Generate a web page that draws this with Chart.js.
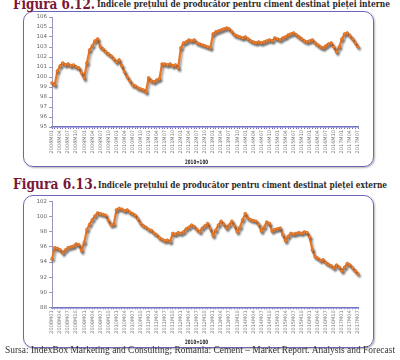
<!DOCTYPE html>
<html>
<head>
<meta charset="utf-8">
<script src="https://cdn.jsdelivr.net/npm/chart.js@4"></script>
<style>
  html, body { margin: 0; padding: 0; background: #fff; }
  #page { position: relative; width: 400px; height: 360px; overflow: hidden; }
  .txt { position: absolute; white-space: nowrap; line-height: 1; transform-origin: 0 0; }
  .fig { font: bold 15.5px "DejaVu Serif", serif; color: #7a1736; }
  .sub { font: bold 8.5px "DejaVu Serif", serif; color: #2a2a2a; }
  .src { font: 9.5px "Liberation Serif", serif; color: #333; }
  .base { font: bold 6px "DejaVu Sans", sans-serif; color: #222; }
  .box { position: absolute; border: 1.5px solid #6d66b4; border-radius: 10px;
         box-shadow: 1px 1px 2px rgba(0,0,0,.3); box-sizing: border-box; }
  .cv { position: absolute; left: 0; width: 400px; height: 180px; }
</style>
</head>
<body>
<div id="page">
  <div class="box" style="left:23px;top:11px;width:351px;height:156px"></div>
  <div class="box" style="left:23px;top:195px;width:351px;height:153px"></div>

  <div class="txt fig" style="left:13px;top:-6.5px" data-w="82">Figura 6.12.</div>
  <div class="txt sub" style="left:97px;top:-0.6px" data-w="293">Indicele prețului de producător pentru ciment destinat pieței interne</div>
  <div class="txt fig" style="left:13px;top:174px" data-w="84">Figura 6.13.</div>
  <div class="txt sub" style="left:98px;top:179.8px" data-w="289">Indicele prețului de producător pentru ciment destinat pieței externe</div>

  <div class="cv" style="top:0"><canvas id="chart-int"></canvas></div>
  <div class="cv" style="top:180px"><canvas id="chart-ext"></canvas></div>

  <div class="txt base" style="left:185px;top:158px" data-w="23">2010=100</div>
  <div class="txt base" style="left:185px;top:338px" data-w="23">2010=100</div>

  <div class="txt src" style="left:5px;top:345.3px" data-w="390">Sursa: IndexBox Marketing and Consulting; Romania: Cement – Market Report. Analysis and Forecast</div>
</div>

<script>
// ── data (monthly, 2008M01 … 2017M07) ─────────────────────────
const YEARS  = [2008, 2009, 2010, 2011, 2012, 2013, 2014, 2015, 2016, 2017];
const MONTHS = ['01', '02', '03', '04', '05', '06', '07', '08', '09', '10', '11', '12'];

// internal market, 2010=100
const IDX_INTERNAL = [
  99.4, 99.2, 100.6, 101.1, 101.4, 101.2, 101.3, 101.1, 101.2, 101.0,
  100.9, 100.4, 99.9, 101.4, 102.7, 103.1, 103.6, 103.8, 103.0, 102.8,
  102.5, 102.3, 102.1, 101.8, 101.5, 101.7, 101.1, 100.5, 100.0, 99.6,
  99.2, 99.1, 98.9, 98.8, 98.7, 98.5, 99.9, 99.6, 99.5, 99.7,
  99.8, 101.3, 101.3, 101.2, 101.3, 101.1, 101.2, 100.9, 102.9, 103.4,
  103.5, 103.7, 103.6, 103.7, 103.4, 103.3, 103.2, 103.1, 103.0, 102.9,
  104.3, 104.5, 104.6, 104.7, 104.8, 104.9, 104.8, 104.5, 104.2, 104.1,
  104.0, 103.9, 104.0, 103.8, 103.6, 103.5, 103.4, 103.5, 103.4, 103.5,
  103.6, 103.7, 103.6, 103.9, 103.8, 103.7, 103.9, 104.0, 104.2, 104.3,
  104.4, 104.2, 104.0, 103.8, 103.6, 103.5, 103.6, 103.7, 103.4, 103.2,
  103.0, 102.9, 103.1, 103.3, 103.4, 103.0, 102.5, 103.0, 103.8, 104.3,
  104.4, 104.1, 103.8, 103.4, 103.0
];

// external market, 2010=100
const IDX_EXTERNAL = [
  94.4, 95.9, 95.8, 95.6, 95.2, 95.6, 95.9, 96.0, 96.1, 96.4,
  96.3, 95.5, 96.6, 98.3, 99.0, 99.6, 100.1, 100.5, 100.4, 100.3,
  100.2, 99.5, 98.9, 99.0, 100.9, 101.1, 101.0, 100.8, 100.9, 100.6,
  100.4, 100.2, 99.7, 99.1, 98.8, 98.6, 98.3, 98.2, 97.8, 97.6,
  97.2, 97.0, 96.8, 96.9, 96.7, 97.8, 97.7, 97.9, 97.8, 98.0,
  98.4, 98.6, 98.9, 98.7, 98.3, 98.0, 98.5, 98.8, 99.1, 98.4,
  97.5, 98.2, 98.9, 99.4, 99.0, 98.5, 98.9, 99.4, 98.8, 98.0,
  98.6, 99.6, 100.4, 99.8, 99.6, 99.5, 99.4, 99.0, 98.1, 98.6,
  99.3, 99.1, 98.1, 98.3, 98.4, 98.5, 97.6, 96.8, 97.4, 97.8,
  97.7, 97.8, 97.9, 97.8, 98.0, 97.9, 97.3, 95.6, 94.7, 94.5,
  94.2, 94.3, 93.9, 93.7, 93.5, 93.2, 93.6, 93.3, 92.8, 93.3,
  93.8, 93.6, 93.2, 92.8, 92.4
];

const LABELS = [];
YEARS.forEach(y => MONTHS.forEach(m => LABELS.push(`${y}M${m}`)));
LABELS.length = IDX_INTERNAL.length;

// fit the html text lines to the widths measured on the picture
document.querySelectorAll('[data-w]').forEach(el => {
  const w = el.getBoundingClientRect().width;
  el.style.transform = `scaleX(${(+el.dataset.w / w).toFixed(4)})`;
});

const lineShadow = {
  id: 'lineShadow',
  beforeDatasetsDraw(chart) {
    const { ctx } = chart;
    ctx.save();
    ctx.shadowColor = 'rgba(60,60,60,.5)';
    ctx.shadowOffsetX = 1.5;
    ctx.shadowOffsetY = 2;
    ctx.shadowBlur = 2;
  },
  afterDatasetsDraw(chart) { chart.ctx.restore(); }
};

const AXIS = '#7171c6';
const TICK_FONT = { family: 'DejaVu Sans', size: 5.5 };

function makeChart(id, data, yMin, yMax, yStep, padTop, padBottom) {
  return new Chart(document.getElementById(id), {
    type: 'line',
    data: {
      labels: LABELS,
      datasets: [{
        data,
        borderColor: '#ec7624',
        borderWidth: 2.2,
        backgroundColor: '#f08a3a',
        pointRadius: 1.4,
        pointBorderWidth: 0.6,
        pointBorderColor: '#d2621a',
        pointBackgroundColor: '#f08a3a',
        tension: 0,
        fill: false
      }]
    },
    options: {
      responsive: true, maintainAspectRatio: false, animation: false,
      layout: { padding: { left: 0, right: 42, top: padTop, bottom: padBottom } },
      plugins: { legend: { display: false }, tooltip: { enabled: false } },
      scales: {
        x: {
          offset: false,
          afterFit: s => { s.height = 40; },
          border: { color: AXIS, width: 1.5 },
          grid: { drawOnChartArea: false, tickLength: 2, color: AXIS },
          ticks: {
            autoSkip: false, minRotation: 90, maxRotation: 90, padding: 1,
            color: '#777', font: { family: 'DejaVu Sans', size: 5 },
            callback: (v, i) => i % 3 === 0 ? LABELS[i] : ''
          }
        },
        y: {
          min: yMin, max: yMax,
          afterFit: s => { s.width = 52; },
          border: { color: '#9a98b8', width: 1 },
          grid: { drawOnChartArea: false, tickLength: 3, color: '#9a98b8' },
          ticks: { stepSize: yStep, autoSkip: false, padding: 2, color: '#666', font: TICK_FONT }
        }
      }
    },
    plugins: [lineShadow]
  });
}

makeChart('chart-int', IDX_INTERNAL, 95, 106, 1, 17, 13);
makeChart('chart-ext', IDX_EXTERNAL, 88, 102, 2, 21.7, 12.7);
</script>
</body>
</html>
